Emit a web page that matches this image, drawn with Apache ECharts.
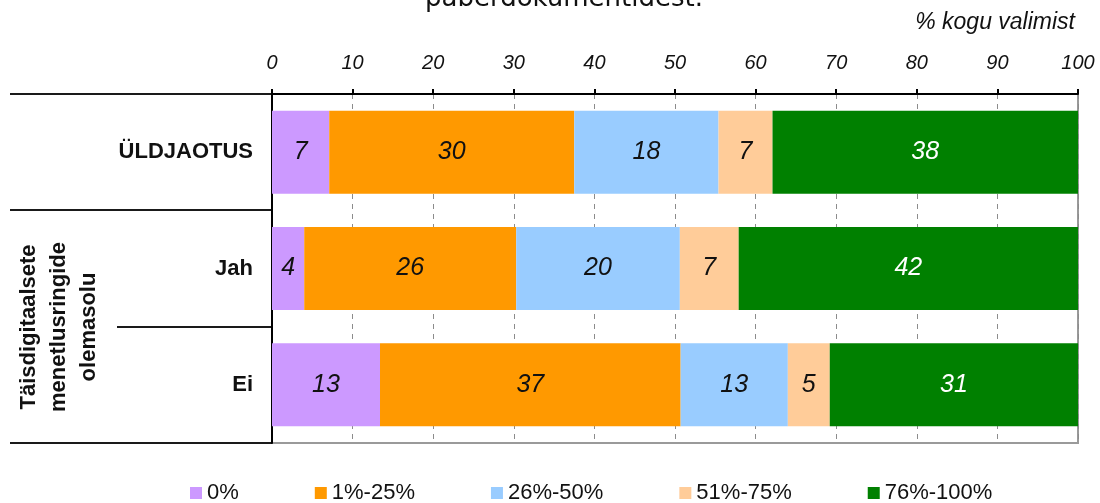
<!DOCTYPE html>
<html>
<head>
<meta charset="utf-8">
<script src="https://cdn.jsdelivr.net/npm/echarts@6/dist/echarts.min.js"></script>
<style>
html,body{margin:0;padding:0;background:#fff;}
#c{width:1100px;height:503px;}
</style>
</head>
<body>
<div id="c"></div>
<script>
// ---- data ----
const categories = ['ÜLDJAOTUS', 'Jah', 'Ei'];
const seriesNames = ['0%', '1%-25%', '26%-50%', '51%-75%', '76%-100%'];
const share0 = [7.1, 4.0, 13.4];
const share1to25 = [30.4, 26.3, 37.3];
const share26to50 = [17.9, 20.3, 13.3];
const share51to75 = [6.7, 7.3, 5.2];
const share76to100 = [37.9, 42.1, 30.8];
const xTickMin = 0, xTickMax = 100, xTickStep = 10;
const titleText = 'paberdokumentidest.';
const unitText = '% kogu valimist';
const groupLabel = 'Täisdigitaalsete\nmenetlusringide\nolemasolu';

// ---- style ----
const colors = ['#CC99FF', '#FF9900', '#99CCFF', '#FFCC99', '#008000'];
const labelColors = ['#111', '#111', '#111', '#111', '#fff'];
const FONT = '"Liberation Sans", Arial, sans-serif';
const W = 1100, H = 503;
const G = {left: 272, right: 22, top: 94, bottom: 60};
const plotBottom = H - G.bottom;
const bandH = (plotBottom - G.top) / categories.length;

const allValues = [share0, share1to25, share26to50, share51to75, share76to100];

const series = seriesNames.map((name, i) => ({
  name: name,
  type: 'bar',
  stack: 'total',
  barWidth: 83,
  data: allValues[i],
  itemStyle: {color: colors[i]},
  label: {
    show: true,
    position: 'inside',
    formatter: p => Math.round(p.value),
    fontFamily: FONT,
    fontStyle: 'italic',
    fontSize: 25,
    color: labelColors[i]
  },
  emphasis: {disabled: true}
}));

// separator lines in the category label area
const sepLines = [];
for (let k = 0; k <= categories.length; k++) {
  const y = Math.round(G.top + k * bandH);
  const x1 = (k === 2) ? 117 : 10;
  sepLines.push({
    type: 'line',
    shape: {x1: x1, y1: y, x2: G.left, y2: y},
    style: {stroke: '#1a1a1a', lineWidth: 2},
    silent: true
  });
}

const chart = echarts.init(document.getElementById('c'));
chart.setOption({
  animation: false,
  backgroundColor: '#fff',
  grid: {left: G.left, right: G.right, top: G.top, bottom: G.bottom, show: true,
         borderColor: '#9a9a9a', borderWidth: 2, backgroundColor: 'transparent'},
  legend: {
    data: seriesNames,
    left: 185,
    top: 477,
    itemWidth: 12,
    itemHeight: 12,
    itemGap: 76,
    icon: 'rect',
    textStyle: {fontFamily: FONT, fontSize: 22, color: '#111'}
  },
  xAxis: {
    type: 'value',
    position: 'top',
    min: xTickMin, max: xTickMax, interval: xTickStep,
    axisLine: {show: true, lineStyle: {color: '#000', width: 2}},
    axisTick: {show: true, length: 5, lineStyle: {color: '#000', width: 2}},
    axisLabel: {show: true, margin: 21, fontFamily: FONT, fontStyle: 'italic', fontSize: 20, color: '#111'},
    splitLine: {show: true, lineStyle: {type: [5, 5], color: '#8c8c8c', width: 1}}
  },
  yAxis: {
    type: 'category',
    inverse: true,
    data: categories,
    axisLine: {show: true, lineStyle: {color: '#000', width: 2}},
    axisTick: {show: false},
    splitLine: {show: false},
    axisLabel: {margin: 19, fontFamily: FONT, fontWeight: 'bold', fontSize: 22, color: '#111'}
  },
  series: series,
  graphic: [
    ...sepLines,
    {
      type: 'text', x: 564, y: -1,
      style: {text: titleText, fontFamily: '"DejaVu Sans", Verdana, sans-serif', fontSize: 26,
              fill: '#111', align: 'center', verticalAlign: 'middle'},
      silent: true
    },
    {
      type: 'text', x: 1075, y: 23,
      style: {text: unitText, fontFamily: FONT, fontStyle: 'italic', fontSize: 23,
              fill: '#111', align: 'right', verticalAlign: 'middle'},
      silent: true
    },
    {
      type: 'text', x: 59, y: 327, rotation: Math.PI / 2,
      style: {text: groupLabel, fontFamily: FONT, fontWeight: 'bold', fontSize: 22, lineHeight: 30,
              fill: '#111', align: 'center', verticalAlign: 'middle'},
      silent: true
    }
  ]
});
</script>
</body>
</html>
